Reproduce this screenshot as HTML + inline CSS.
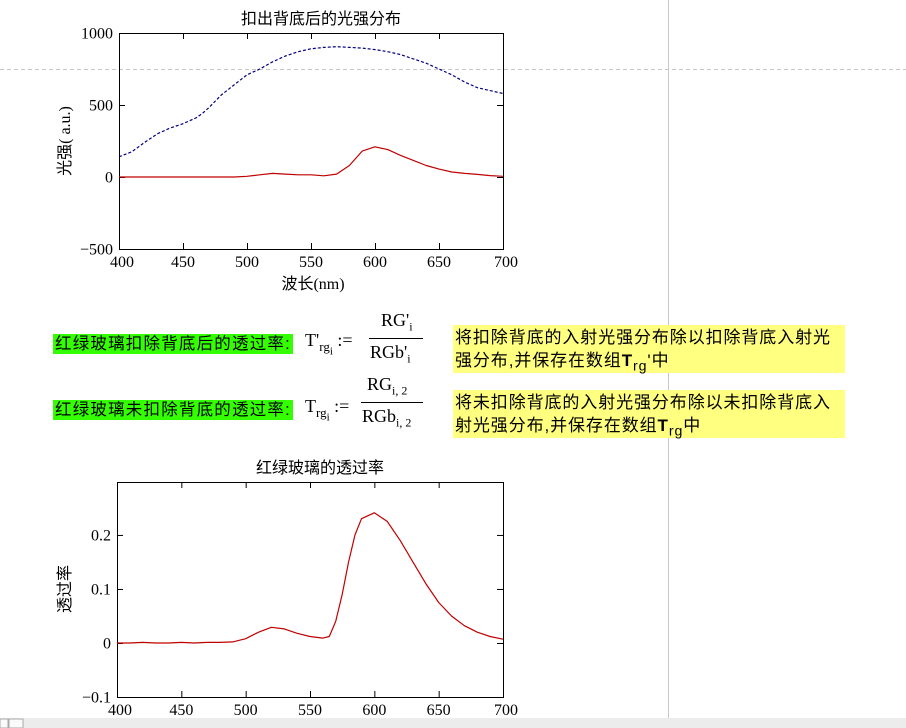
<!DOCTYPE html>
<html><head><meta charset="utf-8">
<style>
body{margin:0;width:906px;height:728px;overflow:hidden;background:#fff;position:relative;font-family:"Liberation Serif","Noto Serif CJK SC",serif;}
.cjk{font-family:"Liberation Sans","Noto Sans CJK SC",sans-serif;}
.abs{position:absolute;}
.green{background:#33ff00;font-size:16.5px;letter-spacing:1.2px;line-height:20px;padding:0 2px;}
.yellow{background:#ffff80;font-size:17px;letter-spacing:0.9px;line-height:23px;padding:1px 2px;}
</style></head><body>
<svg class="abs" style="left:0;top:0" width="906" height="728">
<line x1="668.5" y1="0" x2="668.5" y2="718" stroke="#c8c8c8"/>
<line x1="0" y1="69.5" x2="906" y2="69.5" stroke="#c8c8c8" stroke-dasharray="4,3"/>
<g id="top"></g>
<g id="bot"></g>
<rect x="0" y="718" width="906" height="10" fill="#ececec"/>
<rect x="0" y="719" width="8" height="9" fill="#fafafa" stroke="#aaa"/>
<rect x="9" y="719" width="14" height="9" fill="#fafafa" stroke="#aaa"/>
</svg>
<div class="abs green cjk" style="left:53px;top:334px">红绿玻璃扣除背底后的透过率:</div>
<div class="abs green cjk" style="left:53px;top:400px">红绿玻璃未扣除背底的透过率:</div>
<div class="abs" style="left:305px;top:310px;width:130px;height:55px;font-size:18px">
 <span class="abs" style="left:0;top:20px">T'<sub style="font-size:13px">rg<sub style="font-size:11px">i</sub></sub> :=</span>
 <span class="abs" style="left:76px;top:0">RG'<sub style="font-size:12px">i</sub></span>
 <span class="abs" style="left:64px;top:28px;width:54px;border-top:1px solid #000"></span>
 <span class="abs" style="left:65px;top:32px">RGb'<sub style="font-size:12px">i</sub></span>
</div>
<div class="abs" style="left:305px;top:374px;width:130px;height:55px;font-size:18px">
 <span class="abs" style="left:0;top:22px">T<sub style="font-size:13px">rg<sub style="font-size:11px">i</sub></sub> :=</span>
 <span class="abs" style="left:62px;top:0">RG<sub style="font-size:12px">i, 2</sub></span>
 <span class="abs" style="left:56px;top:28px;width:62px;border-top:1px solid #000"></span>
 <span class="abs" style="left:57px;top:32px">RGb<sub style="font-size:12px">i, 2</sub></span>
</div>
<div class="abs yellow cjk" style="left:453px;top:325px;width:388px;height:46px">将扣除背底的入射光强分布除以扣除背底入射光强分布,并保存在数组<b>T</b><sub>rg</sub>'中</div>
<div class="abs yellow cjk" style="left:453px;top:390px;width:388px;height:46px">将未扣除背底的入射光强分布除以未扣除背底入射光强分布,并保存在数组<b>T</b><sub>rg</sub>中</div>
<script>
const topX=[400,410,420,430,440,450,460,465,470,480,490,500,510,520,530,540,550,560,570,580,590,600,610,620,630,640,650,660,670,680,690,700];
const topBlue=[140,175,240,300,340,370,410,440,480,570,640,710,750,800,840,870,890,900,905,900,895,885,870,850,820,790,750,710,660,620,600,580];
const topRed=[0,0,0,0,0,0,0,0,0,0,0,5,15,25,20,15,15,8,20,80,180,210,190,150,115,80,55,35,25,18,10,5];
const topYTicks=[-500,0,500,1000];
const xTicks=[400,450,500,550,600,650,700];
const botX=[400,410,420,430,440,450,460,470,480,490,500,510,520,530,540,550,560,565,570,575,580,585,590,600,610,620,630,640,650,660,670,680,690,700];
const botRed=[0,0,0.001,0,0,0.001,0,0.001,0.001,0.002,0.008,0.02,0.029,0.026,0.018,0.012,0.009,0.012,0.04,0.09,0.15,0.2,0.23,0.241,0.225,0.19,0.15,0.11,0.075,0.05,0.032,0.02,0.012,0.007];
const botYTicks=[-0.1,0,0.1,0.2];
const NS='http://www.w3.org/2000/svg';
function mk(p,t,a,txt){const e=document.createElementNS(NS,t);for(const k in a)e.setAttribute(k,a[k]);if(txt!==undefined)e.textContent=txt;p.appendChild(e);return e;}
function chart(g,c){
 const sx=v=>c.x0+(v-400)/300*(c.x1-c.x0);
 const sy=v=>c.y1-(v-c.ymin)/(c.ymax-c.ymin)*(c.y1-c.y0);
 const fr=mk(g,'rect',{x:c.x0+.5,y:c.y0+.5,width:c.x1-c.x0,height:c.y1-c.y0,fill:'none',stroke:'#000'});
 
 xTicks.forEach(v=>{const x=sx(v)+.5;
  mk(g,'line',{x1:x,y1:c.y0,x2:x,y2:c.y0+6,stroke:'#000'});mk(g,'line',{x1:x,y1:c.y1,x2:x,y2:c.y1-6,stroke:'#000'});
  const t=mk(g,'text',{x:sx(v)+(v==700?3:v==400?3:0),y:c.y1+18,'text-anchor':'middle','font-size':16,'font-family':'Liberation Serif'},String(v));
  });
 c.yt.forEach(v=>{const y=sy(v)+.5;
  mk(g,'line',{x1:c.x0,y1:y,x2:c.x0+6,y2:y,stroke:'#000'});mk(g,'line',{x1:c.x1,y1:y,x2:c.x1-6,y2:y,stroke:'#000'});
  const t=mk(g,'text',{x:c.x0-6,y:y+5,'text-anchor':'end','font-size':16,'font-family':'Liberation Serif'},v<0?'\u2212'+String(-v):String(v));
  });
 c.series.forEach(s=>{const d=s.x.map((x,i)=>(i?'L':'M')+sx(x).toFixed(1)+','+sy(s.y[i]).toFixed(1)).join('');
  const p=mk(g,'path',{d:d,fill:'none',stroke:s.col,'stroke-width':1.2,'stroke-dasharray':s.dash||'none','stroke-linejoin':'round'});
  });
 const ti=mk(g,'text',{x:(c.x0+c.x1)/2+10,y:c.y0-9,'text-anchor':'middle','font-size':16,'font-family':'Liberation Sans,Noto Sans CJK SC,sans-serif'},c.title);
 
 const yl=mk(g,'text',{x:0,y:0,'text-anchor':'middle','font-size':16,transform:`translate(${c.ylx},${c.yly}) rotate(-90)`,'font-family':'Liberation Serif,Noto Sans CJK SC,serif'},c.ylab);
 
 if(c.xlab){const xl=mk(g,'text',{x:(c.x0+c.x1)/2+2,y:c.y1+40,'text-anchor':'middle','font-size':16,'font-family':'Liberation Serif,Noto Sans CJK SC,serif'},c.xlab);
  }
}
chart(document.getElementById('top'),{x0:119,x1:503,y0:33,y1:249,ymin:-500,ymax:1000,yt:topYTicks,title:'扣出背底后的光强分布',ylab:'光强( a.u.)',ylx:70,yly:141,xlab:'波长(nm)',
 series:[{x:topX,y:topBlue,col:'#000080',dash:'3,2',name:'series-background-intensity'},{x:topX,y:topRed,col:'#c00000',name:'series-sample-intensity'}]});
chart(document.getElementById('bot'),{x0:117,x1:503,y0:482,y1:697,ymin:-0.1,ymax:0.298,yt:botYTicks,title:'红绿玻璃的透过率',ylab:'透过率',ylx:70,yly:589,
 series:[{x:botX,y:botRed,col:'#c00000',name:'series-transmittance'}]});
</script>
</body></html>
